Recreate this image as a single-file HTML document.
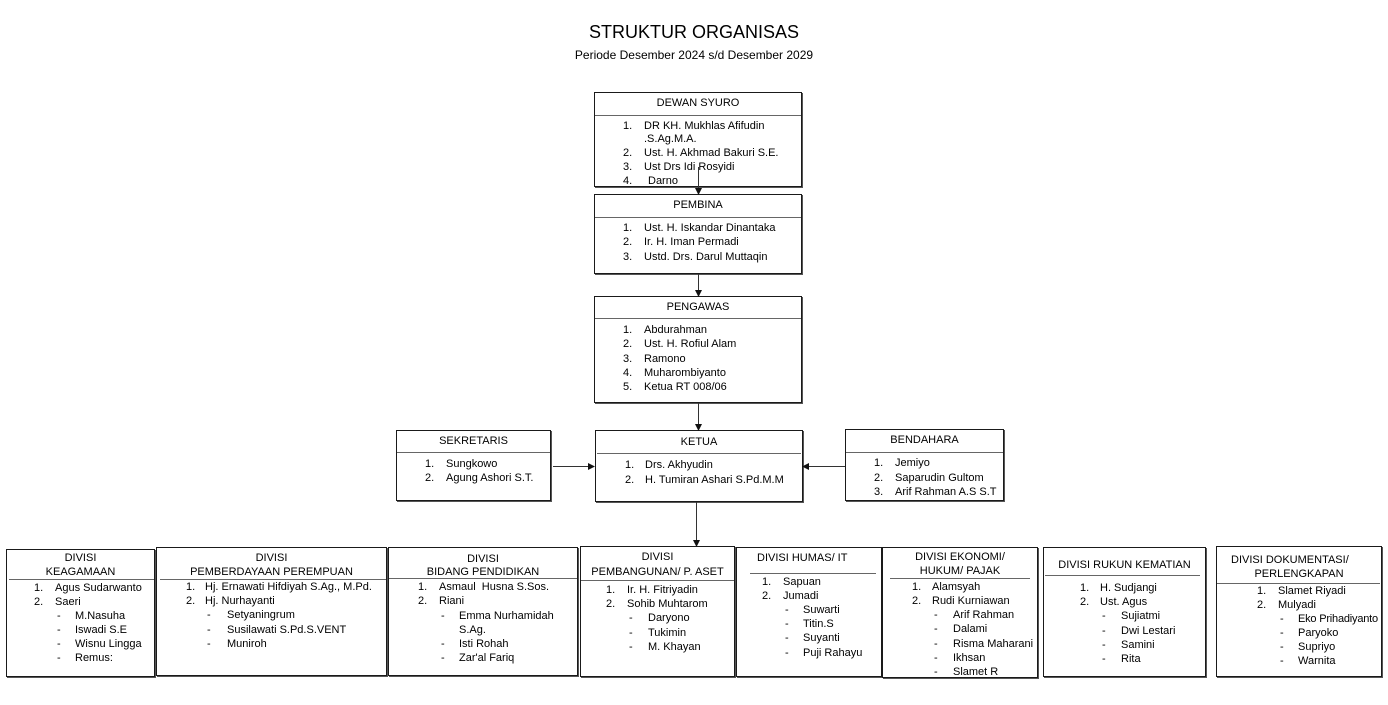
<!DOCTYPE html>
<html><head><meta charset="utf-8"><style>
*{margin:0;padding:0;box-sizing:border-box}
body{width:1388px;height:705px;background:#fff;position:relative;overflow:hidden;font-family:"Liberation Sans",Arial,sans-serif;color:#000}
.b{position:absolute;border:1.5px solid #1a1a1a;box-shadow:1px 1px 0 #555;background:transparent}
.s{position:absolute;height:1px;background:#666}
.t{position:absolute;font-size:11px;line-height:14px;height:14px;white-space:nowrap}
.c{position:absolute;font-size:11px;line-height:14px;height:14px;white-space:nowrap;text-align:center}
</style></head><body>

<div class="c" style="left:0;width:1388px;top:21px;font-size:18px;line-height:22px;height:22px">STRUKTUR ORGANISAS</div>
<div class="c" style="left:0;width:1388px;top:48px;font-size:12px">Periode Desember 2024 s/d Desember 2029</div>

<!-- DEWAN SYURO -->
<div class="b" style="left:594px;top:92px;width:208px;height:95px"></div>
<div class="s" style="left:595px;top:115px;width:206px"></div>
<div class="c" style="left:594px;width:208px;top:96px">DEWAN SYURO</div>
<div class="t" style="left:623px;top:119px">1.</div><div class="t" style="left:644px;top:119px">DR KH. Mukhlas Afifudin</div>
<div class="t" style="left:644px;top:132px">.S.Ag.M.A.</div>
<div class="t" style="left:623px;top:146px">2.</div><div class="t" style="left:644px;top:146px">Ust. H. Akhmad Bakuri S.E.</div>
<div class="t" style="left:623px;top:160px">3.</div><div class="t" style="left:644px;top:160px">Ust Drs Idi Rosyidi</div>
<div class="t" style="left:623px;top:174px">4.</div><div class="t" style="left:648px;top:174px">Darno</div>

<!-- PEMBINA -->
<div class="b" style="left:594px;top:194px;width:208px;height:80px"></div>
<div class="s" style="left:595px;top:217px;width:206px"></div>
<div class="c" style="left:594px;width:208px;top:198px">PEMBINA</div>
<div class="t" style="left:623px;top:221px">1.</div><div class="t" style="left:644px;top:221px">Ust. H. Iskandar Dinantaka</div>
<div class="t" style="left:623px;top:235px">2.</div><div class="t" style="left:644px;top:235px">Ir. H. Iman Permadi</div>
<div class="t" style="left:623px;top:250px">3.</div><div class="t" style="left:644px;top:250px">Ustd. Drs. Darul Muttaqin</div>

<!-- PENGAWAS -->
<div class="b" style="left:594px;top:296px;width:208px;height:107px"></div>
<div class="s" style="left:595px;top:318px;width:206px"></div>
<div class="c" style="left:594px;width:208px;top:300px">PENGAWAS</div>
<div class="t" style="left:623px;top:323px">1.</div><div class="t" style="left:644px;top:323px">Abdurahman</div>
<div class="t" style="left:623px;top:337px">2.</div><div class="t" style="left:644px;top:337px">Ust. H. Rofiul Alam</div>
<div class="t" style="left:623px;top:352px">3.</div><div class="t" style="left:644px;top:352px">Ramono</div>
<div class="t" style="left:623px;top:366px">4.</div><div class="t" style="left:644px;top:366px">Muharombiyanto</div>
<div class="t" style="left:623px;top:380px">5.</div><div class="t" style="left:644px;top:380px">Ketua RT 008/06</div>

<!-- SEKRETARIS -->
<div class="b" style="left:396px;top:430px;width:155px;height:71px"></div>
<div class="s" style="left:397px;top:452px;width:153px"></div>
<div class="c" style="left:396px;width:155px;top:434px">SEKRETARIS</div>
<div class="t" style="left:425px;top:457px">1.</div><div class="t" style="left:446px;top:457px">Sungkowo</div>
<div class="t" style="left:425px;top:471px">2.</div><div class="t" style="left:446px;top:471px">Agung Ashori S.T.</div>

<!-- KETUA -->
<div class="b" style="left:595px;top:430px;width:208px;height:72px"></div>
<div class="s" style="left:597px;top:453px;width:204px"></div>
<div class="c" style="left:595px;width:208px;top:435px">KETUA</div>
<div class="t" style="left:625px;top:458px">1.</div><div class="t" style="left:645px;top:458px">Drs. Akhyudin</div>
<div class="t" style="left:625px;top:473px">2.</div><div class="t" style="left:645px;top:473px">H. Tumiran Ashari S.Pd.M.M</div>

<!-- BENDAHARA -->
<div class="b" style="left:845px;top:429px;width:159px;height:72px"></div>
<div class="s" style="left:846px;top:452px;width:157px"></div>
<div class="c" style="left:845px;width:159px;top:433px">BENDAHARA</div>
<div class="t" style="left:874px;top:456px">1.</div><div class="t" style="left:895px;top:456px">Jemiyo</div>
<div class="t" style="left:874px;top:471px">2.</div><div class="t" style="left:895px;top:471px">Saparudin Gultom</div>
<div class="t" style="left:874px;top:485px">3.</div><div class="t" style="left:895px;top:485px">Arif Rahman A.S S.T</div>

<!-- KEAGAMAAN -->
<div class="b" style="left:6px;top:549px;width:149px;height:128px"></div>
<div class="s" style="left:9px;top:579px;width:145px"></div>
<div class="c" style="left:6px;width:149px;top:551px">DIVISI</div>
<div class="c" style="left:6px;width:149px;top:565px">KEAGAMAAN</div>
<div class="t" style="left:34px;top:581px">1.</div><div class="t" style="left:55px;top:581px">Agus Sudarwanto</div>
<div class="t" style="left:34px;top:595px">2.</div><div class="t" style="left:55px;top:595px">Saeri</div>
<div class="t" style="left:57px;top:609px">-</div><div class="t" style="left:75px;top:609px">M.Nasuha</div>
<div class="t" style="left:57px;top:623px">-</div><div class="t" style="left:75px;top:623px">Iswadi S.E</div>
<div class="t" style="left:57px;top:637px">-</div><div class="t" style="left:75px;top:637px">Wisnu Lingga</div>
<div class="t" style="left:57px;top:651px">-</div><div class="t" style="left:75px;top:651px">Remus:</div>

<!-- PEMBERDAYAAN -->
<div class="b" style="left:156px;top:547px;width:231px;height:129px"></div>
<div class="s" style="left:160px;top:579px;width:226px"></div>
<div class="c" style="left:156px;width:231px;top:551px">DIVISI</div>
<div class="c" style="left:156px;width:231px;top:565px">PEMBERDAYAAN PEREMPUAN</div>
<div class="t" style="left:186px;top:580px">1.</div><div class="t" style="left:205px;top:580px">Hj. Ernawati Hifdiyah S.Ag., M.Pd.</div>
<div class="t" style="left:186px;top:594px">2.</div><div class="t" style="left:205px;top:594px">Hj. Nurhayanti</div>
<div class="t" style="left:207px;top:608px">-</div><div class="t" style="left:227px;top:608px">Setyaningrum</div>
<div class="t" style="left:207px;top:623px">-</div><div class="t" style="left:227px;top:623px">Susilawati S.Pd.S.VENT</div>
<div class="t" style="left:207px;top:637px">-</div><div class="t" style="left:227px;top:637px">Muniroh</div>

<!-- BIDANG PENDIDIKAN -->
<div class="b" style="left:388px;top:547px;width:190px;height:129px"></div>
<div class="s" style="left:389px;top:578px;width:188px"></div>
<div class="c" style="left:388px;width:190px;top:552px">DIVISI</div>
<div class="c" style="left:388px;width:190px;top:565px">BIDANG PENDIDIKAN</div>
<div class="t" style="left:418px;top:580px">1.</div><div class="t" style="left:439px;top:580px">Asmaul&nbsp; Husna S.Sos.</div>
<div class="t" style="left:418px;top:594px">2.</div><div class="t" style="left:439px;top:594px">Riani</div>
<div class="t" style="left:441px;top:609px">-</div><div class="t" style="left:459px;top:609px">Emma Nurhamidah</div>
<div class="t" style="left:459px;top:623px">S.Ag.</div>
<div class="t" style="left:441px;top:637px">-</div><div class="t" style="left:459px;top:637px">Isti Rohah</div>
<div class="t" style="left:441px;top:651px">-</div><div class="t" style="left:459px;top:651px">Zar'al Fariq</div>

<!-- PEMBANGUNAN -->
<div class="b" style="left:580px;top:546px;width:155px;height:131px"></div>
<div class="s" style="left:581px;top:580px;width:153px"></div>
<div class="c" style="left:580px;width:155px;top:550px">DIVISI</div>
<div class="c" style="left:580px;width:155px;top:565px">PEMBANGUNAN/ P. ASET</div>
<div class="t" style="left:606px;top:583px">1.</div><div class="t" style="left:627px;top:583px">Ir. H. Fitriyadin</div>
<div class="t" style="left:606px;top:597px">2.</div><div class="t" style="left:627px;top:597px">Sohib Muhtarom</div>
<div class="t" style="left:629px;top:611px">-</div><div class="t" style="left:648px;top:611px">Daryono</div>
<div class="t" style="left:629px;top:626px">-</div><div class="t" style="left:648px;top:626px">Tukimin</div>
<div class="t" style="left:629px;top:640px">-</div><div class="t" style="left:648px;top:640px">M. Khayan</div>

<!-- HUMAS -->
<div class="b" style="left:736px;top:547px;width:146px;height:130px"></div>
<div class="s" style="left:750px;top:573px;width:126px"></div>
<div class="t" style="left:757px;top:551px">DIVISI HUMAS/ IT</div>
<div class="t" style="left:762px;top:575px">1.</div><div class="t" style="left:783px;top:575px">Sapuan</div>
<div class="t" style="left:762px;top:589px">2.</div><div class="t" style="left:783px;top:589px">Jumadi</div>
<div class="t" style="left:785px;top:603px">-</div><div class="t" style="left:803px;top:603px">Suwarti</div>
<div class="t" style="left:785px;top:617px">-</div><div class="t" style="left:803px;top:617px">Titin.S</div>
<div class="t" style="left:785px;top:631px">-</div><div class="t" style="left:803px;top:631px">Suyanti</div>
<div class="t" style="left:785px;top:646px">-</div><div class="t" style="left:803px;top:646px">Puji Rahayu</div>

<!-- EKONOMI -->
<div class="b" style="left:882px;top:547px;width:156px;height:131px"></div>
<div class="s" style="left:890px;top:578px;width:140px"></div>
<div class="c" style="left:882px;width:156px;top:550px">DIVISI EKONOMI/</div>
<div class="c" style="left:882px;width:156px;top:564px">HUKUM/ PAJAK</div>
<div class="t" style="left:912px;top:580px">1.</div><div class="t" style="left:932px;top:580px">Alamsyah</div>
<div class="t" style="left:912px;top:594px">2.</div><div class="t" style="left:932px;top:594px">Rudi Kurniawan</div>
<div class="t" style="left:934px;top:608px">-</div><div class="t" style="left:953px;top:608px">Arif Rahman</div>
<div class="t" style="left:934px;top:622px">-</div><div class="t" style="left:953px;top:622px">Dalami</div>
<div class="t" style="left:934px;top:637px">-</div><div class="t" style="left:953px;top:637px">Risma Maharani</div>
<div class="t" style="left:934px;top:651px">-</div><div class="t" style="left:953px;top:651px">Ikhsan</div>
<div class="t" style="left:934px;top:665px">-</div><div class="t" style="left:953px;top:665px">Slamet R</div>

<!-- RUKUN KEMATIAN -->
<div class="b" style="left:1043px;top:547px;width:163px;height:130px"></div>
<div class="s" style="left:1045px;top:575px;width:155px"></div>
<div class="c" style="left:1043px;width:163px;top:558px">DIVISI RUKUN KEMATIAN</div>
<div class="t" style="left:1080px;top:581px">1.</div><div class="t" style="left:1100px;top:581px">H. Sudjangi</div>
<div class="t" style="left:1080px;top:595px">2.</div><div class="t" style="left:1100px;top:595px">Ust. Agus</div>
<div class="t" style="left:1102px;top:609px">-</div><div class="t" style="left:1121px;top:609px">Sujiatmi</div>
<div class="t" style="left:1102px;top:624px">-</div><div class="t" style="left:1121px;top:624px">Dwi Lestari</div>
<div class="t" style="left:1102px;top:638px">-</div><div class="t" style="left:1121px;top:638px">Samini</div>
<div class="t" style="left:1102px;top:652px">-</div><div class="t" style="left:1121px;top:652px">Rita</div>

<!-- DOKUMENTASI -->
<div class="b" style="left:1216px;top:546px;width:166px;height:131px"></div>
<div class="s" style="left:1217px;top:583px;width:163px"></div>
<div class="t" style="left:1231px;top:553px">DIVISI DOKUMENTASI/</div>
<div class="c" style="left:1216px;width:166px;top:567px">PERLENGKAPAN</div>
<div class="t" style="left:1257px;top:584px">1.</div><div class="t" style="left:1278px;top:584px">Slamet Riyadi</div>
<div class="t" style="left:1257px;top:598px">2.</div><div class="t" style="left:1278px;top:598px">Mulyadi</div>
<div class="t" style="left:1280px;top:612px">-</div><div class="t" style="left:1298px;top:612px;letter-spacing:-0.2px">Eko Prihadiyanto</div>
<div class="t" style="left:1280px;top:626px">-</div><div class="t" style="left:1298px;top:626px">Paryoko</div>
<div class="t" style="left:1280px;top:640px">-</div><div class="t" style="left:1298px;top:640px">Supriyo</div>
<div class="t" style="left:1280px;top:654px">-</div><div class="t" style="left:1298px;top:654px">Warnita</div>

<!-- connectors -->
<svg width="1388" height="705" style="position:absolute;left:0;top:0" xmlns="http://www.w3.org/2000/svg">
<g stroke="#333" stroke-width="1" fill="none">
<line x1="698.5" y1="167" x2="698.5" y2="189"/>
<line x1="698.5" y1="274" x2="698.5" y2="291"/>
<line x1="698.5" y1="403" x2="698.5" y2="425"/>
<line x1="696.5" y1="502" x2="696.5" y2="541"/>
<line x1="553" y1="466.5" x2="589" y2="466.5"/>
<line x1="845" y1="466.5" x2="808" y2="466.5"/>
</g>
<g fill="#111">
<polygon points="695,188 702,188 698.5,195"/>
<polygon points="695,290 702,290 698.5,297"/>
<polygon points="695,424 702,424 698.5,431"/>
<polygon points="693,540 700,540 696.5,547"/>
<polygon points="588,463 588,470 595,466.5"/>
<polygon points="809,463 809,470 802,466.5"/>
</g>
</svg>
</body></html>
